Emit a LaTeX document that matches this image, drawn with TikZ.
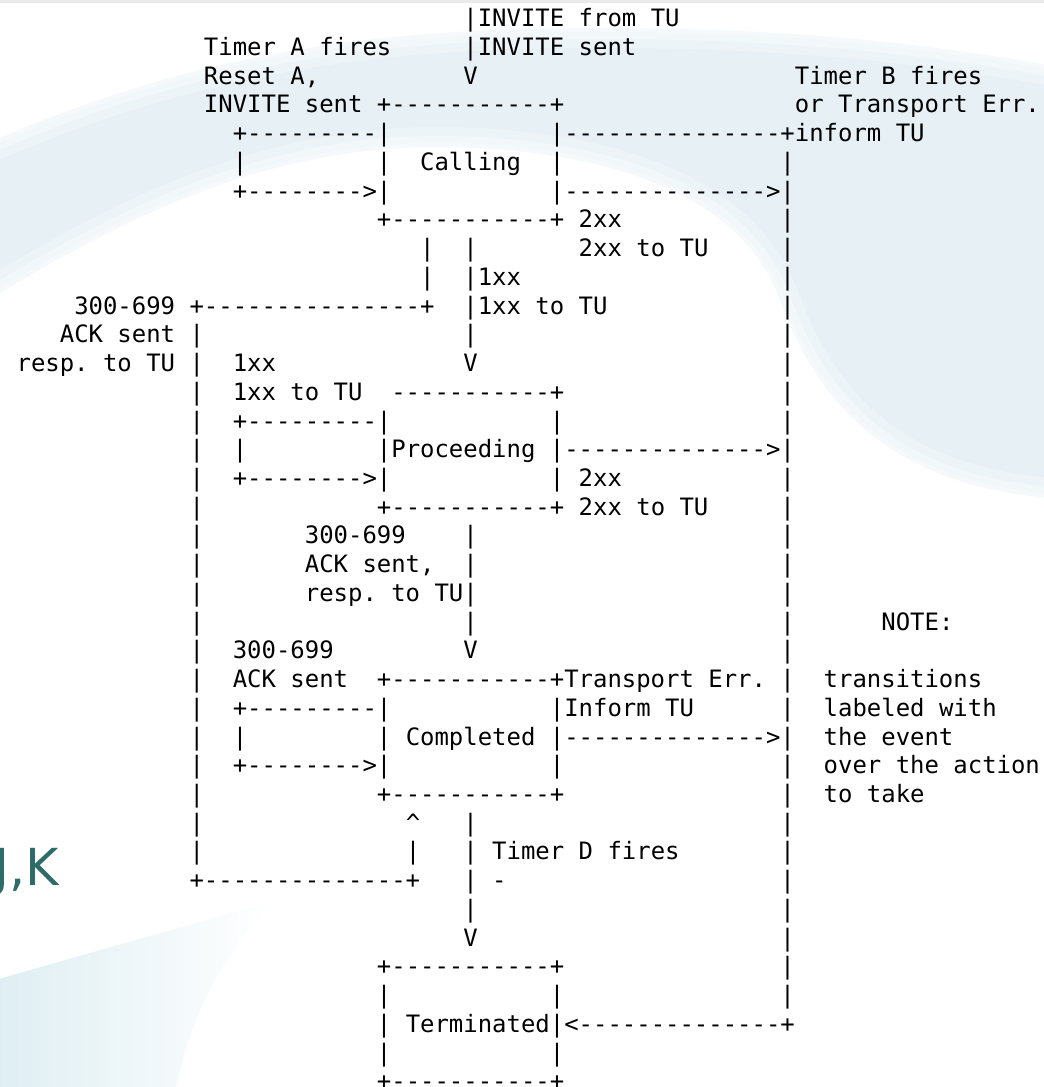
\documentclass[tikz,border=0pt]{standalone}
\usepackage{fontspec}
\newfontfamily\asciifont{DejaVu Sans Mono}[Ligatures=TeXOff]
\newfontfamily\logofont{DejaVu Sans}
\definecolor{SwooshBlue}{RGB}{226,238,244}
\definecolor{WedgeBlue}{RGB}{218,236,242}
\definecolor{LogoTeal}{RGB}{46,107,105}
\definecolor{TopGray}{RGB}{234,234,234}
\newlength{\colwd}
\setlength{\colwd}{14.413pt}
\newcommand{\colgap}[1]{\hspace*{#1\colwd}}
\tikzset{
  ascii/.style={font={\asciifont\fontsize{23.94pt}{28.73pt}\selectfont\frenchspacing},
    anchor=base west,inner sep=0pt,outer sep=0pt},
  logo/.style={font={\logofont\fontsize{51pt}{60pt}\selectfont},text=LogoTeal,
    anchor=base east,inner sep=0pt},
  swoosh/.style={fill=SwooshBlue,draw=none,fill opacity=0.85},
  soften/.style={draw=white,line width=#1,draw opacity=0.3,line join=round}
}

\begin{document}
\begin{tikzpicture}[x=1pt,y=-1pt]
  \useasboundingbox (0,0) rectangle (1044,1087);
  \fill[white] (0,0) rectangle (1044,1087);
  % background swooshes
  \path[save path=\bandpath] (-60,165) .. controls (180,50) and (380,28) .. (600,28)
    .. controls (800,28) and (950,45) .. (1100,75) -- (1100,500)
    .. controls (900,500) and (820,410) .. (780,300)
    .. controls (740,190) and (600,150) .. (450,147)
    .. controls (250,144) and (100,230) .. (-60,330) -- cycle;
  \fill[swoosh,use path=\bandpath];
  \draw[soften=40pt,use path=\bandpath];
  \draw[soften=22pt,use path=\bandpath];
  \draw[soften=8pt,use path=\bandpath];
  \shade[left color=WedgeBlue,right color=white]
    (-40,990) .. controls (100,950) and (200,922) .. (272,902)
    .. controls (220,960) and (185,1020) .. (170,1120) -- (-40,1120) -- cycle;
  \fill[TopGray] (0,0) rectangle (1044,3);
  \node[logo] (jk) at (59,885) {J,K};

  \begin{scope}[shift={(16.6,26.8)},x=14.413pt,y=-28.73pt]
    \node[ascii] (invitetu) at (31,0) {|INVITE from TU};
    \node[ascii] (timera) at (13,1) {Timer A fires\colgap{5}|INVITE sent};
    \node[ascii] (reseta) at (13,2) {Reset A,\colgap{10}V\colgap{22}Timer B fires};
    \node[ascii] (callingtop) at (13,3) {INVITE sent +-----------+\colgap{16}or Transport Err.};
    \node[ascii] (callingr1) at (15,4) {+---------|\colgap{11}|---------------+inform TU};
    \node[ascii] (calling) at (15,5) {|\colgap{9}|\colgap{2}Calling\colgap{2}|\colgap{15}|};
    \node[ascii] (callingr3) at (15,6) {+-------->|\colgap{11}|-------------->|};
    \node[ascii] (callingbot) at (25,7) {+-----------+ 2xx\colgap{11}|};
    \node[ascii] (twoxxtu) at (28,8) {|\colgap{2}|\colgap{7}2xx to TU\colgap{5}|};
    \node[ascii] (onexx) at (28,9) {|\colgap{2}|1xx\colgap{18}|};
    \node[ascii] (fail) at (4,10) {300-699 +---------------+\colgap{2}|1xx to TU\colgap{12}|};
    \node[ascii] (failack) at (3,11) {ACK sent |\colgap{18}|\colgap{21}|};
    \node[ascii] (failresp) at (0,12) {resp. to TU |\colgap{2}1xx\colgap{13}V\colgap{21}|};
    \node[ascii] (proctop) at (12,13) {|\colgap{2}1xx to TU\colgap{2}-----------+\colgap{15}|};
    \node[ascii] (procr1) at (12,14) {|\colgap{2}+---------|\colgap{11}|\colgap{15}|};
    \node[ascii] (proceeding) at (12,15) {|\colgap{2}|\colgap{9}|Proceeding |-------------->|};
    \node[ascii] (procr3) at (12,16) {|\colgap{2}+-------->|\colgap{11}| 2xx\colgap{11}|};
    \node[ascii] (procbot) at (12,17) {|\colgap{12}+-----------+ 2xx to TU\colgap{5}|};
    \node[ascii] (procfail) at (12,18) {|\colgap{7}300-699\colgap{4}|\colgap{21}|};
    \node[ascii] (procack) at (12,19) {|\colgap{7}ACK sent,\colgap{2}|\colgap{21}|};
    \node[ascii] (procresp) at (12,20) {|\colgap{7}resp. to TU|\colgap{21}|};
    \node[ascii] (note) at (12,21) {|\colgap{18}|\colgap{21}|\colgap{6}NOTE:};
    \node[ascii] (compfail) at (12,22) {|\colgap{2}300-699\colgap{9}V\colgap{21}|};
    \node[ascii] (comptop) at (12,23) {|\colgap{2}ACK sent\colgap{2}+-----------+Transport Err. |\colgap{2}transitions};
    \node[ascii] (compr1) at (12,24) {|\colgap{2}+---------|\colgap{11}|Inform TU\colgap{6}|\colgap{2}labeled with};
    \node[ascii] (completed) at (12,25) {|\colgap{2}|\colgap{9}| Completed |-------------->|\colgap{2}the event};
    \node[ascii] (compr3) at (12,26) {|\colgap{2}+-------->|\colgap{11}|\colgap{15}|\colgap{2}over the action};
    \node[ascii] (compbot) at (12,27) {|\colgap{12}+-----------+\colgap{15}|\colgap{2}to take};
    \node[ascii] (backup) at (12,28) {|\colgap{14}\textasciicircum\colgap{3}|\colgap{21}|};
    \node[ascii] (timerd) at (12,29) {|\colgap{14}|\colgap{3}| Timer D fires\colgap{7}|};
    \node[ascii] (backloop) at (12,30) {+--------------+\colgap{3}| -\colgap{19}|};
    \node[ascii] (downbar) at (31,31) {|\colgap{21}|};
    \node[ascii] (downv) at (31,32) {V\colgap{21}|};
    \node[ascii] (termtop) at (25,33) {+-----------+\colgap{15}|};
    \node[ascii] (termr1) at (25,34) {|\colgap{11}|\colgap{15}|};
    \node[ascii] (terminated) at (25,35) {| Terminated|<--------------+};
    \node[ascii] (termr3) at (25,36) {|\colgap{11}|};
    \node[ascii] (termbot) at (25,37) {+-----------+};
  \end{scope}
\end{tikzpicture}
\end{document}
